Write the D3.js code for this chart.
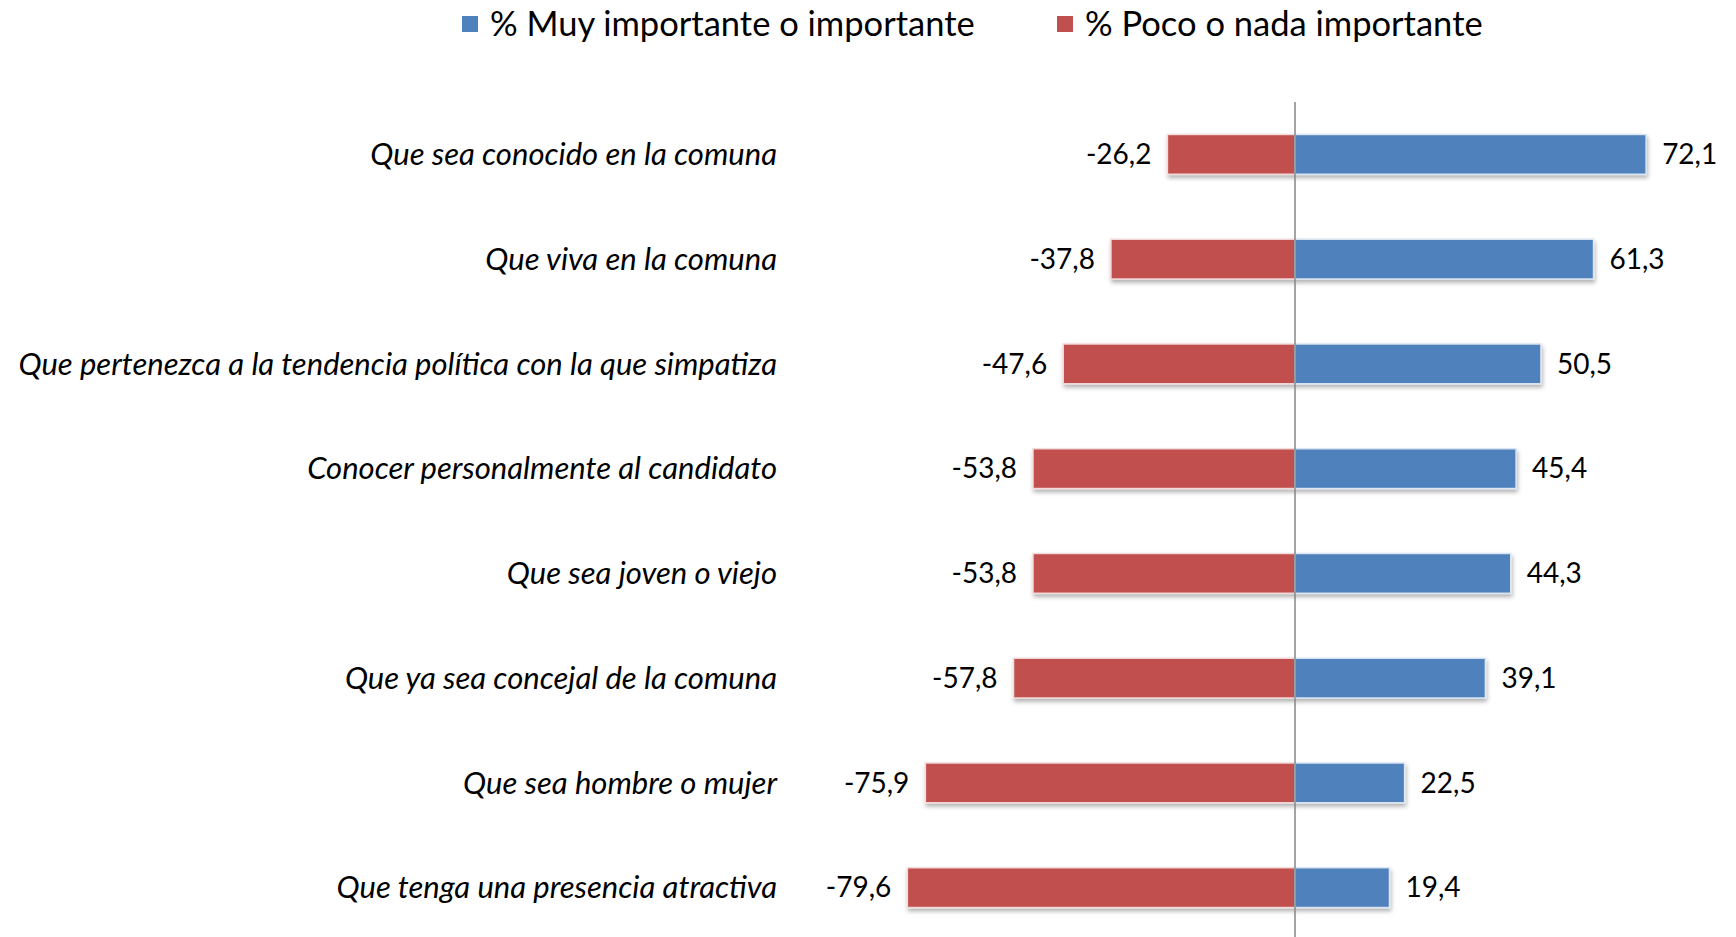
<!DOCTYPE html>
<html>
<head>
<meta charset="utf-8">
<script src="https://cdn.jsdelivr.net/npm/d3@7"></script>
<style>
  body { margin: 0; background: #fff; }
  text { font-family: Lato, "Open Sans", sans-serif; fill: #000; }
</style>
</head>
<body>
<script>
//Data
var categories = [
	"Que sea conocido en la comuna",
	"Que viva en la comuna",
	"Que pertenezca a la tendencia política con la que simpatiza",
	"Conocer personalmente al candidato",
	"Que sea joven o viejo",
	"Que ya sea concejal de la comuna",
	"Que sea hombre o mujer",
	"Que tenga una presencia atractiva"
];
var importante = [72.1, 61.3, 50.5, 45.4, 44.3, 39.1, 22.5, 19.4];
var pocoNada = [-26.2, -37.8, -47.6, -53.8, -53.8, -57.8, -75.9, -79.6];
var seriesNames = ["% Muy importante o importante", "% Poco o nada importante"];
var seriesColors = ["#4F81BD", "#C0504D"];

//Width and height
var w = 1736, h = 937;

var svg = d3.select("body")
	.append("svg")
	.attr("width", w)
	.attr("height", h);

// drop shadow like the office chart
var defs = svg.append("defs");
var shadow = defs.append("filter")
	.attr("id", "shadow")
	.attr("x", "-10%").attr("y", "-20%")
	.attr("width", "120%").attr("height", "160%");
shadow.append("feDropShadow")
	.attr("dx", 1).attr("dy", 3)
	.attr("stdDeviation", 2)
	.attr("flood-color", "#000")
	.attr("flood-opacity", 0.3);

//Scales
var xScale = d3.scaleLinear()
	.domain([-100, 100])
	.range([808, 1782]);

var yScale = d3.scaleBand()
	.domain(categories)
	.range([102, 940])
	.paddingInner(0.62)
	.paddingOuter(0.31);

var locale = d3.formatLocale({decimal: ",", thousands: ".", grouping: [3], currency: ["", ""], minus: "-"});
var fmt = locale.format(".1f");

var rows = categories.map(function(c, i) {
	return {cat: c, pos: importante[i], neg: pocoNada[i]};
});

//Bars
var bars = svg.append("g").attr("filter", "url(#shadow)");

bars.selectAll("rect.neg")
	.data(rows)
	.enter()
	.append("rect")
	.attr("class", "neg")
	.attr("x", function(d) { return xScale(d.neg); })
	.attr("y", function(d) { return yScale(d.cat); })
	.attr("width", function(d) { return xScale(0) - xScale(d.neg); })
	.attr("height", yScale.bandwidth())
	.style("fill", seriesColors[1])
	.style("stroke", "#f2dcdb")
	.style("stroke-width", 1.5);

bars.selectAll("rect.pos")
	.data(rows)
	.enter()
	.append("rect")
	.attr("class", "pos")
	.attr("x", xScale(0))
	.attr("y", function(d) { return yScale(d.cat); })
	.attr("width", function(d) { return xScale(d.pos) - xScale(0); })
	.attr("height", yScale.bandwidth())
	.style("fill", seriesColors[0])
	.style("stroke", "#dce6f2")
	.style("stroke-width", 1.5);

//Zero axis line
svg.append("line")
	.attr("x1", xScale(0)).attr("x2", xScale(0))
	.attr("y1", 102).attr("y2", h)
	.style("stroke", "#868686")
	.style("stroke-width", 1.5);

//Value labels
svg.selectAll("text.vneg")
	.data(rows)
	.enter()
	.append("text")
	.attr("class", "vneg")
	.attr("x", function(d) { return xScale(d.neg) - 16; })
	.attr("y", function(d) { return yScale(d.cat) + yScale.bandwidth() / 2; })
	.attr("dy", "0.35em")
	.attr("text-anchor", "end")
	.style("font-size", "28px")
	.text(function(d) { return fmt(d.neg); });

svg.selectAll("text.vpos")
	.data(rows)
	.enter()
	.append("text")
	.attr("class", "vpos")
	.attr("x", function(d) { return xScale(d.pos) + 16; })
	.attr("y", function(d) { return yScale(d.cat) + yScale.bandwidth() / 2; })
	.attr("dy", "0.35em")
	.attr("text-anchor", "start")
	.style("font-size", "28px")
	.text(function(d) { return fmt(d.pos); });

//Category labels
svg.selectAll("text.cat")
	.data(categories)
	.enter()
	.append("text")
	.attr("class", "cat")
	.attr("x", 777)
	.attr("y", function(d) { return yScale(d) + yScale.bandwidth() / 2; })
	.attr("dy", "0.35em")
	.attr("text-anchor", "end")
	.style("font-size", "31px")
	.style("font-style", "italic")
	.text(function(d) { return d; });

//Legend
var legendX = [462, 1057];
var legend = svg.selectAll("g.legend")
	.data(seriesNames)
	.enter()
	.append("g")
	.attr("class", "legend")
	.attr("transform", function(d, i) { return "translate(" + legendX[i] + ",24)"; });

legend.append("rect")
	.attr("x", 0).attr("y", -8)
	.attr("width", 16).attr("height", 16)
	.style("fill", function(d, i) { return seriesColors[i]; });

legend.append("text")
	.attr("x", 28)
	.attr("dy", "0.35em")
	.style("font-size", "34.5px")
	.text(function(d) { return d; });
</script>
</body>
</html>
